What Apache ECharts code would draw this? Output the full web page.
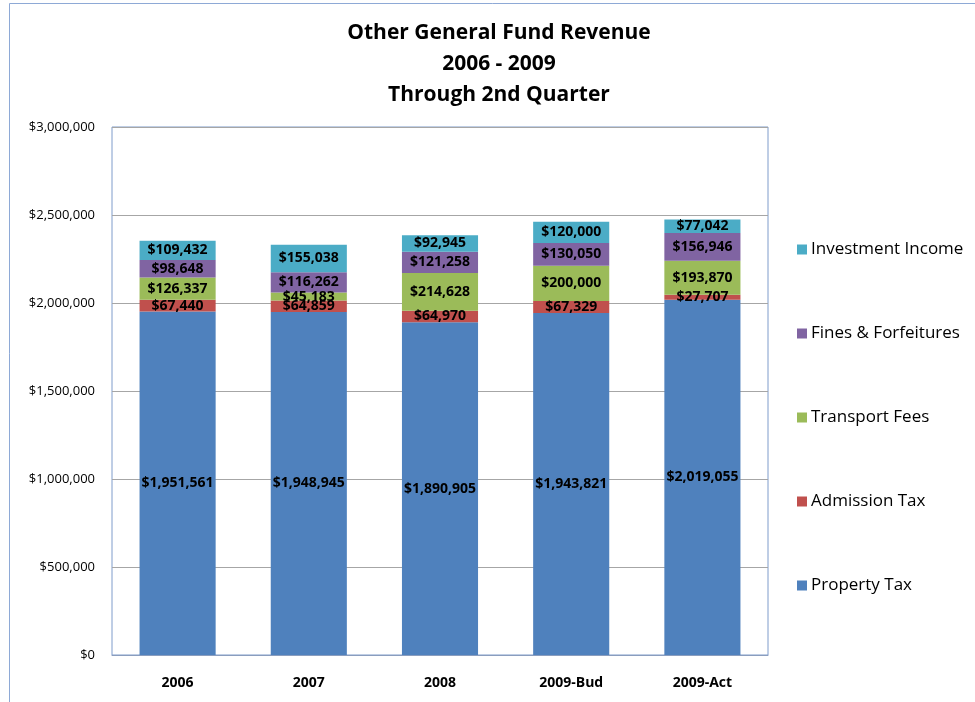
<!DOCTYPE html>
<html>
<head>
<meta charset="utf-8">
<script src="https://cdn.jsdelivr.net/npm/echarts@6/dist/echarts.min.js"></script>
<style>
  html, body { margin: 0; padding: 0; background: #fff; }
  #chart { width: 975px; height: 702px; }
</style>
</head>
<body>
<div id="chart"></div>
<script>
var categories = ['2006', '2007', '2008', '2009-Bud', '2009-Act']
var propertyTax = [1951561, 1948945, 1890905, 1943821, 2019055]
var admissionTax = [67440, 64859, 64970, 67329, 27707]
var transportFees = [126337, 45183, 214628, 200000, 193870]
var finesForfeitures = [98648, 116262, 121258, 130050, 156946]
var investmentIncome = [109432, 155038, 92945, 120000, 77042]

var fontFamily = '"Open Sans", "Noto Sans", sans-serif'

function money(v) {
  return '$' + String(v).replace(/\B(?=(\d{3})+(?!\d))/g, ',')
}

function makeSeries(name, data, color) {
  return {
    name: name,
    type: 'bar',
    stack: 'total',
    barCategoryGap: '42%',
    data: data,
    itemStyle: { color: color },
    label: {
      show: true,
      position: 'inside',
      color: '#000',
      fontWeight: 'bold',
      fontSize: 14,
      fontFamily: fontFamily,
      formatter: function (p) { return money(p.value) }
    }
  }
}

var chart = echarts.init(document.getElementById('chart'))
chart.setOption({
  backgroundColor: '#fff',
  animation: false,
  title: {
    text: 'Other General Fund Revenue\n2006 - 2009\nThrough 2nd Quarter',
    left: 494,
    textAlign: 'center',
    top: 13,
    textStyle: {
      fontSize: 21,
      fontWeight: 'bold',
      color: '#000',
      lineHeight: 31,
      fontFamily: fontFamily
    }
  },
  graphic: [{
    type: 'rect',
    shape: { x: 9.5, y: 3.5, width: 1000, height: 1000 },
    style: { fill: 'none', stroke: '#8EA9D6', lineWidth: 1 }
  }],
  grid: {
    left: 112,
    top: 127,
    width: 656,
    height: 528,
    show: true,
    borderColor: '#7E9CCB',
    borderWidth: 1,
    containLabel: false
  },
  legend: {
    orient: 'vertical',
    left: 792,
    top: 236,
    itemGap: 67,
    itemWidth: 10,
    itemHeight: 10,
    icon: 'rect',
    textStyle: { fontSize: 17, color: '#000', fontFamily: fontFamily, padding: [0, 0, 0, -1] },
    data: ['Investment Income', 'Fines & Forfeitures', 'Transport Fees', 'Admission Tax', 'Property Tax']
  },
  xAxis: {
    type: 'category',
    data: categories,
    axisLine: { show: true, lineStyle: { color: '#8A9DBE' } },
    axisTick: { show: false },
    axisLabel: {
      color: '#000',
      fontWeight: 'bold',
      fontSize: 14,
      margin: 21,
      fontFamily: fontFamily
    }
  },
  yAxis: {
    type: 'value',
    min: 0,
    max: 3000000,
    interval: 500000,
    axisLine: { show: false },
    axisTick: { show: false },
    splitLine: { lineStyle: { color: '#A6A6A6', width: 1 } },
    axisLabel: {
      color: '#000',
      fontSize: 13,
      margin: 17,
      fontFamily: fontFamily,
      formatter: function (v) { return money(v) }
    }
  },
  series: [
    makeSeries('Property Tax', propertyTax, '#4F81BD'),
    makeSeries('Admission Tax', admissionTax, '#C0504D'),
    makeSeries('Transport Fees', transportFees, '#9BBB59'),
    makeSeries('Fines & Forfeitures', finesForfeitures, '#8064A2'),
    makeSeries('Investment Income', investmentIncome, '#4BACC6')
  ]
})
</script>
</body>
</html>
